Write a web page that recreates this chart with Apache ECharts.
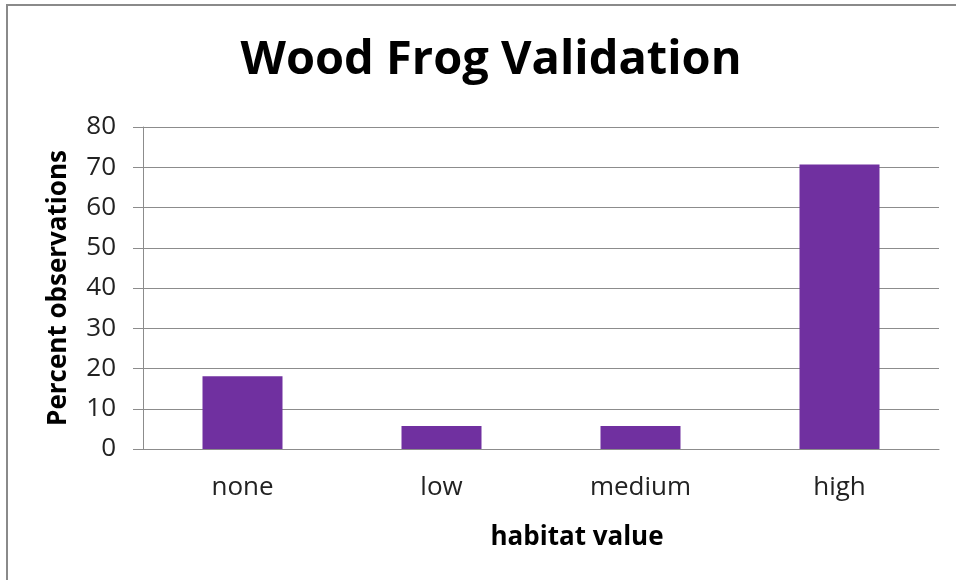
<!DOCTYPE html>
<html>
<head>
<meta charset="utf-8">
<script src="https://cdn.jsdelivr.net/npm/echarts@6/dist/echarts.min.js"></script>
<style>
  html, body { margin: 0; padding: 0; background: #fff; }
  #chart { width: 956px; height: 580px; }
</style>
</head>
<body>
<div id="chart"></div>
<script>
// habitat categories and percent of observations
let categories = ['none', 'low', 'medium', 'high'];
let percentObs = [18.1, 5.7, 5.7, 70.7];

let font = '"Open Sans", "Noto Sans", sans-serif';

let option = {
  animation: false,
  backgroundColor: '#fff',
  title: [{
    text: 'Wood Frog Validation',
    left: 486,
    top: 32,
    textAlign: 'center',
    textStyle: { fontFamily: font, fontSize: 47, fontWeight: 'bold', color: '#000' }
  }, {
    text: 'habitat value',
    left: 572,
    top: 520,
    textAlign: 'center',
    textStyle: { fontFamily: font, fontSize: 26, fontWeight: 'bold', color: '#000' }
  }],
  grid: {
    left: 143,
    right: 17,
    top: 127,
    bottom: 131
  },
  xAxis: {
    type: 'category',
    data: categories,
    axisTick: { show: false },
    axisLine: { lineStyle: { color: '#8c8c8c', width: 1 } },
    axisLabel: { fontFamily: font, fontSize: 26, color: '#222', margin: 26 }
  },
  yAxis: {
    type: 'value',
    min: 0,
    max: 80,
    interval: 10,
    name: 'Percent observations',
    nameLocation: 'middle',
    nameGap: 71,
    nameTextStyle: { fontFamily: font, fontSize: 26, fontWeight: 'bold', color: '#000' },
    axisLine: { show: true, lineStyle: { color: '#8c8c8c', width: 1 } },
    axisTick: { show: true, length: 10, lineStyle: { color: '#8c8c8c' } },
    axisLabel: { fontFamily: font, fontSize: 26, color: '#222', margin: 27 },
    splitLine: { lineStyle: { color: '#8c8c8c', width: 1 } }
  },
  series: [{
    type: 'bar',
    data: percentObs,
    barWidth: 80,
    itemStyle: { color: '#7030a0' }
  }],
  graphic: [{
    type: 'rect',
    shape: { x: 7, y: 5, width: 1000, height: 700 },
    style: { fill: null, stroke: '#8a8a8a', lineWidth: 2 },
    z: 100
  }]
};

let myChart = echarts.init(document.getElementById('chart'));
myChart.setOption(option);
</script>
</body>
</html>
